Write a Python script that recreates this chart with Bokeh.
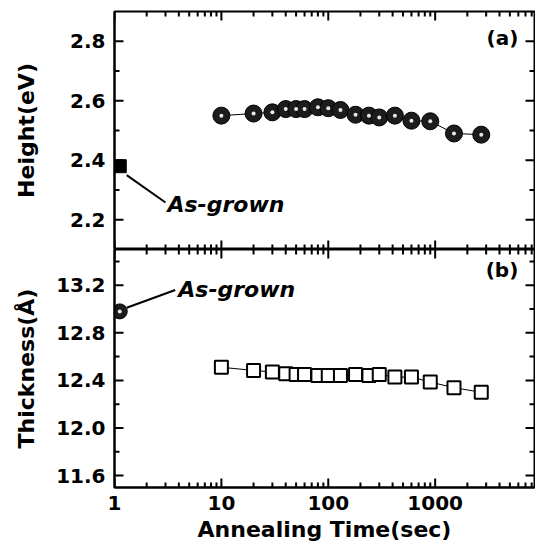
import math
from bokeh.plotting import figure
from bokeh.models import (LogTicker, FixedTicker, CustomJSTickFormatter,
                          PrintfTickFormatter, Label, Arrow, Range1d)
from bokeh.layouts import column
from bokeh.embed import file_html
from bokeh.resources import INLINE

# ---- data ----
anneal_time = [10, 20, 30, 40, 50, 60, 80, 100, 130, 180, 240, 300, 420, 600, 900, 1500, 2700]
height_ev = [2.550, 2.557, 2.561, 2.572, 2.572, 2.572, 2.578, 2.575, 2.569, 2.553, 2.550,
             2.544, 2.550, 2.533, 2.531, 2.490, 2.486]
thickness_a = [12.51, 12.484, 12.47, 12.456, 12.45, 12.45, 12.442, 12.442, 12.442, 12.45,
               12.442, 12.45, 12.428, 12.428, 12.386, 12.339, 12.30]
asgrown_time = [1.12]
asgrown_height = [2.38]
asgrown_thickness = [12.98]
time_ticks = [1, 10, 100, 1000]
time_minor = [m * d for d in time_ticks for m in range(2, 10) if m * d < 8500]
height_ticks = [2.2, 2.4, 2.6, 2.8]
height_minor = [2.3, 2.5, 2.7]
thick_ticks = [11.6, 12.0, 12.4, 12.8, 13.2]
thick_minor = [11.8, 12.2, 12.6, 13.0, 13.4]

FONT = "DejaVu Sans"
XMIN, XMAX = 1, 8500


def style_frame(p):
    p.grid.visible = False
    p.outline_line_color = "black"
    p.outline_line_width = 2
    p.background_fill_color = "white"
    p.border_fill_color = "white"


def no_ticks(ax):
    ax.major_tick_in = 0
    ax.major_tick_out = 0
    ax.minor_tick_in = 0
    ax.minor_tick_out = 0
    ax.axis_line_width = 2
    ax.axis_line_color = "black"


def inward_ticks(p, ymin, ymax, yt, ymt):
    kw = dict(length_units="screen", line_color="black", line_width=2)
    p.ray(x=time_ticks, y=[ymin] * len(time_ticks), length=9, angle=math.pi / 2, **kw)
    p.ray(x=time_minor, y=[ymin] * len(time_minor), length=5, angle=math.pi / 2, **kw)
    p.ray(x=time_ticks, y=[ymax] * len(time_ticks), length=9, angle=-math.pi / 2, **kw)
    p.ray(x=time_minor, y=[ymax] * len(time_minor), length=5, angle=-math.pi / 2, **kw)
    p.ray(x=[XMIN] * len(yt), y=yt, length=9, angle=0, **kw)
    p.ray(x=[XMIN] * len(ymt), y=ymt, length=5, angle=0, **kw)
    p.ray(x=[XMAX] * len(yt), y=yt, length=9, angle=math.pi, **kw)
    p.ray(x=[XMAX] * len(ymt), y=ymt, length=5, angle=math.pi, **kw)


def style_y(ax, standoff):
    no_ticks(ax)
    ax.formatter = PrintfTickFormatter(format="%.1f")
    ax.major_label_text_font = FONT
    ax.major_label_text_font_style = "bold"
    ax.major_label_text_font_size = "20px"
    ax.major_label_text_color = "black"
    ax.major_label_standoff = 9
    ax.axis_label_text_font = FONT
    ax.axis_label_text_font_style = "bold"
    ax.axis_label_text_font_size = "22px"
    ax.axis_label_text_color = "black"
    ax.axis_label_standoff = standoff


def label(p, x, y, text, italic=False, size="22px", align="left"):
    p.add_layout(Label(x=x, y=y, text=text, text_font=FONT,
                       text_font_style="bold italic" if italic else "bold",
                       text_font_size=size, text_color="black",
                       text_baseline="middle", text_align=align))


xr = Range1d(XMIN, XMAX)

# ---------- panel (a) ----------
p1 = figure(width=535, height=249, x_axis_type="log", x_range=xr, y_range=(2.1, 2.9),
            output_backend="svg", toolbar_location=None,
            min_border_left=114, min_border_right=1, min_border_top=11, min_border_bottom=0)
style_frame(p1)
p1.xaxis.visible = False
p1.yaxis.ticker = FixedTicker(ticks=height_ticks)
p1.yaxis.axis_label = "Height(eV)"
style_y(p1.yaxis[0], standoff=28)
inward_ticks(p1, 2.1, 2.9, height_ticks, height_minor)

p1.line(anneal_time, height_ev, line_color="black", line_width=1)
p1.scatter(anneal_time, height_ev, marker="circle", size=17, fill_color="#1c1c1c",
           line_color="black", line_width=1)
p1.scatter(anneal_time, height_ev, marker="circle", size=4, fill_color="#e8e8e8",
           line_color=None)
p1.scatter(asgrown_time, asgrown_height, marker="square", size=13, fill_color="black",
           line_color="black")
p1.add_layout(Arrow(end=None, x_start=1.3, y_start=2.35, x_end=3.0, y_end=2.258,
                    line_width=2, line_color="black"))
label(p1, 3.13, 2.25, "As-grown", italic=True)
label(p1, 6000, 2.81, "(a)", size="20px", align="right")

# ---------- panel (b) ----------
p2 = figure(width=535, height=302, x_axis_type="log", x_range=xr, y_range=(11.5, 13.5),
            output_backend="svg", toolbar_location=None,
            min_border_left=114, min_border_right=1, min_border_top=0, min_border_bottom=64)
style_frame(p2)
xa = p2.xaxis[0]
xa.ticker = LogTicker(num_minor_ticks=10)
no_ticks(xa)
xa.formatter = CustomJSTickFormatter(code="return tick.toFixed(0)")
xa.major_label_text_font = FONT
xa.major_label_text_font_style = "bold"
xa.major_label_text_font_size = "20px"
xa.major_label_text_color = "black"
xa.major_label_standoff = 8
xa.axis_label = "Annealing Time(sec)"
xa.axis_label_text_font = FONT
xa.axis_label_text_font_style = "bold"
xa.axis_label_text_font_size = "22px"
xa.axis_label_text_color = "black"
xa.axis_label_standoff = 4
p2.yaxis.ticker = FixedTicker(ticks=thick_ticks)
p2.yaxis.axis_label = "Thickness(Å)"
style_y(p2.yaxis[0], standoff=14)
inward_ticks(p2, 11.5, 13.5, thick_ticks, thick_minor)

p2.line(anneal_time, thickness_a, line_color="black", line_width=1)
p2.scatter(anneal_time, thickness_a, marker="square", size=13, fill_color="white",
           line_color="black", line_width=2)
p2.scatter(asgrown_time, asgrown_thickness, marker="circle", size=15, fill_color="#1c1c1c",
           line_color="black")
p2.scatter(asgrown_time, asgrown_thickness, marker="circle", size=4, fill_color="#e8e8e8",
           line_color=None)
p2.add_layout(Arrow(end=None, x_start=1.3, y_start=13.01, x_end=3.7, y_end=13.16,
                    line_width=2, line_color="black"))
label(p2, 3.95, 13.165, "As-grown", italic=True)
label(p2, 6000, 13.33, "(b)", size="20px", align="right")

layout = column(p1, p2, spacing=0)
open("out.html", "w").write(file_html(layout, INLINE))
